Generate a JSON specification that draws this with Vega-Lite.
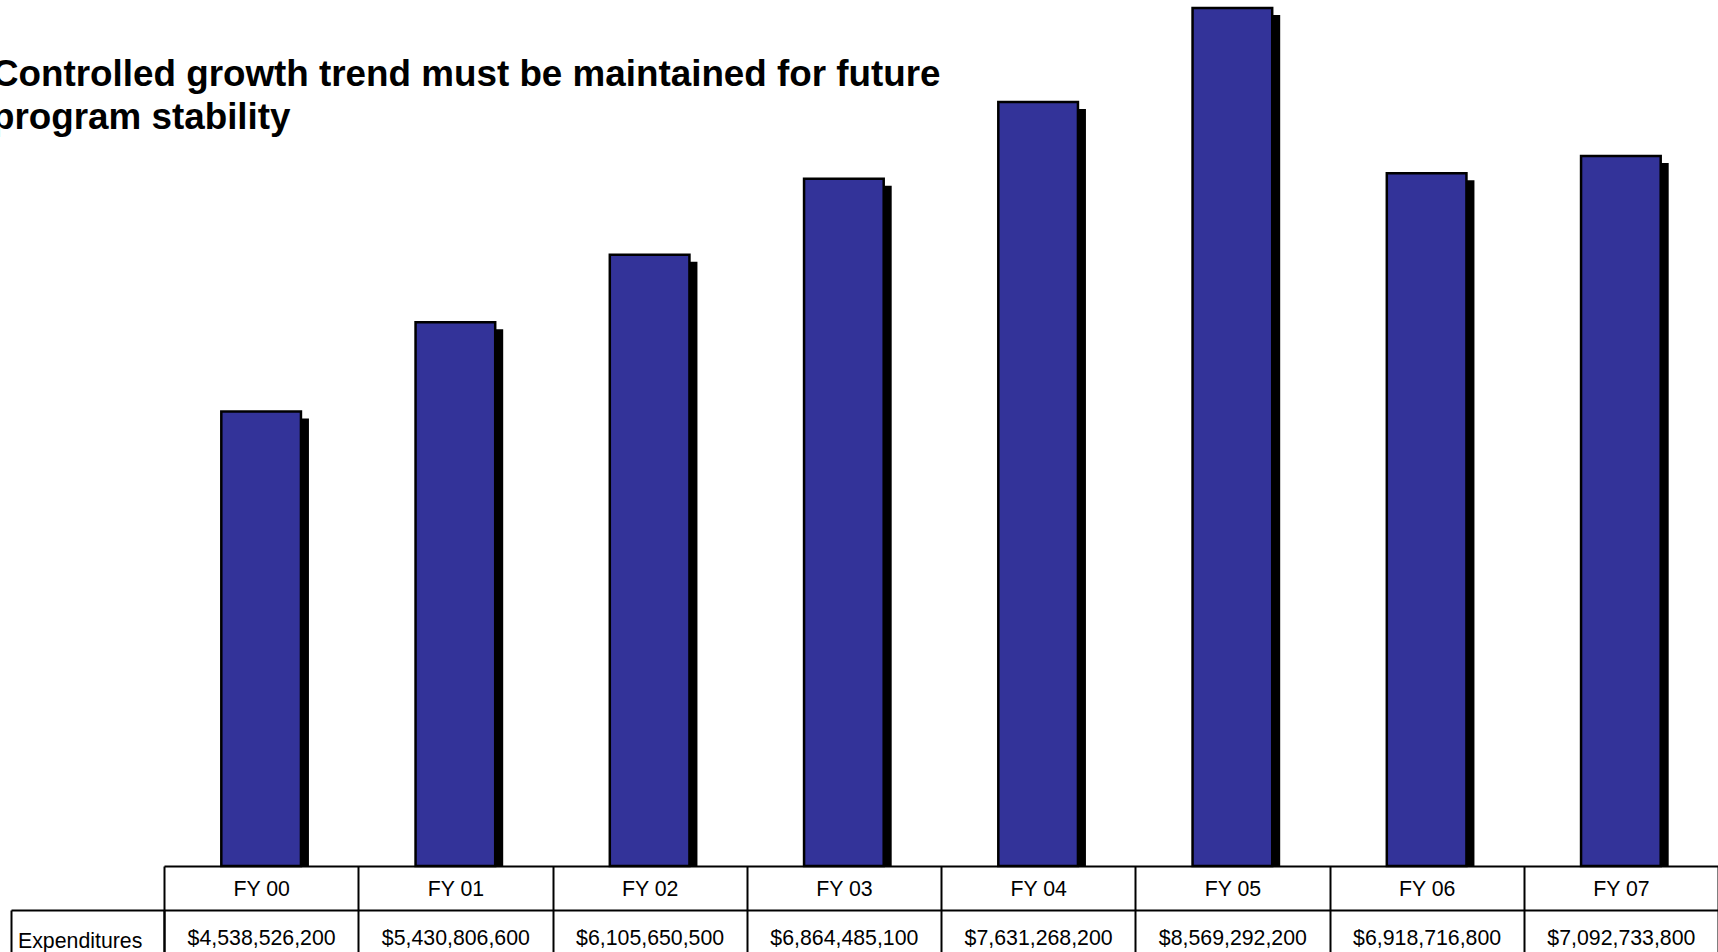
{
  "$schema": "https://vega.github.io/schema/vega-lite/v6.json",
  "autosize": {"type": "none"},
  "width": 1554,
  "height": 866,
  "padding": {"left": 164, "top": 0, "right": 0, "bottom": 86},
  "background": "white",
  "title": {
    "text": ["Controlled growth trend must be maintained for future", "program stability"],
    "anchor": "start",
    "frame": "group",
    "orient": "top",
    "offset": 0,
    "baseline": "alphabetic",
    "dx": -172,
    "dy": 166,
    "font": "Liberation Sans",
    "fontSize": 36.8,
    "fontWeight": "bold",
    "color": "black",
    "lineHeight": 43
  },
  "config": {"view": {"stroke": null}},
  "resolve": {"scale": {"x": "independent"}, "axis": {"x": "independent"}},
  "layer": [
    {
      "data": {"name": "table"},
      "mark": {"type": "bar", "fill": "black", "xOffset": 8, "yOffset": 7, "y2Offset": 0.01, "width": {"band": 0.41}},
      "encoding": {
        "x": {
          "field": "Expenditure", "type": "ordinal", "sort": null,
          "scale": {"paddingInner": 0, "paddingOuter": 0},
          "axis": {
            "orient": "bottom", "offset": 44, "title": null, "format": "$,.0f", "formatType": "number",
            "domainColor": "black", "domainWidth": 2, "tickBand": "extent", "tickSize": 50,
            "tickColor": "black", "tickWidth": 2, "labelAngle": 0, "labelFont": "Liberation Sans",
            "labelFontSize": 21.3, "labelColor": "black", "labelBaseline": "alphabetic", "labelPadding": -16,
            "grid": false
          }
        },
        "y": {"field": "Expenditure", "type": "quantitative", "stack": null, "scale": {"domain": [0, 8650000000], "nice": false}, "axis": null}
      }
    },
    {
      "data": {"name": "table"},
      "mark": {"type": "bar", "fill": "#333399", "stroke": "black", "strokeWidth": 2.5, "width": {"band": 0.41}},
      "encoding": {
        "x": {
          "field": "FY", "type": "nominal",
          "scale": {"paddingInner": 0, "paddingOuter": 0},
          "axis": {
            "orient": "bottom", "title": null, "zindex": 1,
            "domainColor": "black", "domainWidth": 2, "tickBand": "extent", "tickSize": 44,
            "tickColor": "black", "tickWidth": 2, "labelAngle": 0, "labelFont": "Liberation Sans",
            "labelFontSize": 21.3, "labelColor": "black", "labelBaseline": "alphabetic", "labelPadding": -15,
            "grid": false
          }
        },
        "y": {"field": "Expenditure", "type": "quantitative", "stack": null, "scale": {"domain": [0, 8650000000], "nice": false}, "axis": null}
      }
    },
    {
      "data": {"values": [{"row": "Expenditures"}]},
      "mark": {"type": "bar", "opacity": 0},
      "encoding": {
        "x": {
          "field": "row", "type": "nominal",
          "scale": {"range": [-153, 0], "paddingInner": 0, "paddingOuter": 0},
          "axis": {
            "orient": "bottom", "offset": 44, "title": null,
            "domainColor": "black", "domainWidth": 2, "tickBand": "extent", "tickSize": 50,
            "tickColor": "black", "tickWidth": 2, "labelAngle": 0, "labelFont": "Liberation Sans",
            "labelFontSize": 21.3, "labelColor": "black", "labelBaseline": "alphabetic", "labelPadding": -13,
            "labelAlign": "left", "labelOffset": -70, "grid": false
          }
        }
      }
    }
  ],
  "datasets": {
    "table": [
      {"FY": "FY 00", "Expenditure": 4538526200},
      {"FY": "FY 01", "Expenditure": 5430806600},
      {"FY": "FY 02", "Expenditure": 6105650500},
      {"FY": "FY 03", "Expenditure": 6864485100},
      {"FY": "FY 04", "Expenditure": 7631268200},
      {"FY": "FY 05", "Expenditure": 8569292200},
      {"FY": "FY 06", "Expenditure": 6918716800},
      {"FY": "FY 07", "Expenditure": 7092733800}
    ]
  }
}
